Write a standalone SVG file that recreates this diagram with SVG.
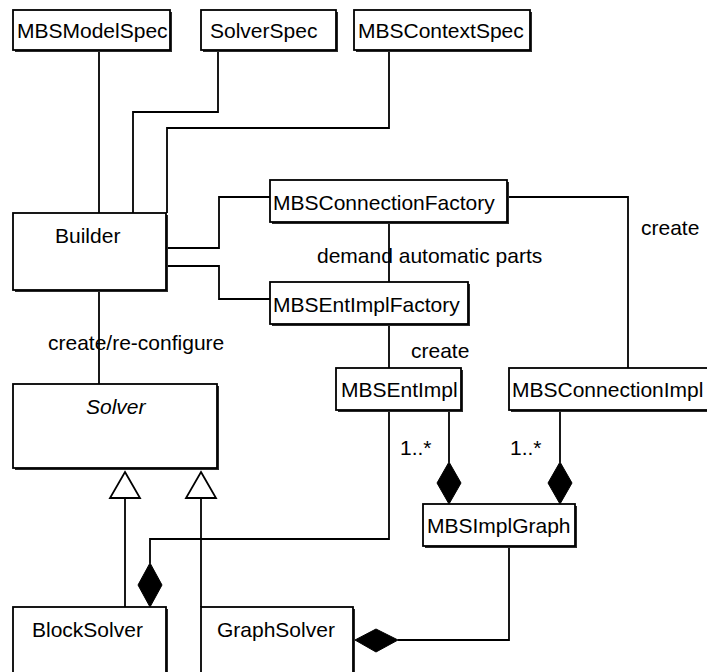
<svg xmlns="http://www.w3.org/2000/svg" width="707" height="672" viewBox="0 0 707 672">
<style>
.box{fill:#fff;stroke:#000;stroke-width:1.8}
.sh{fill:#2a2a2a}
.t{font-family:"Liberation Sans",Arial,sans-serif;font-size:21px;fill:#000}
.it{font-style:italic}
.c{fill:none;stroke:#000;stroke-width:1.8}
.dia{fill:#000;stroke:#000;stroke-width:1}
.tri{fill:#fff;stroke:#000;stroke-width:1.8}
</style>
<rect width="707" height="672" fill="#fff"/>
<g id="connectors">
<path class="c" d="M99,50 V213"/>
<path class="c" d="M218,51 V112 H133 V213"/>
<path class="c" d="M389,51 V128 H167 V213"/>
<path class="c" d="M166,248 H219 V197 H270"/>
<path class="c" d="M166,266 H219 V299 H270"/>
<path class="c" d="M389,223 V282"/>
<path class="c" d="M507,197 H628 V368"/>
<path class="c" d="M389,325 V368"/>
<path class="c" d="M99,290 V384"/>
<path class="c" d="M125,498 V607"/>
<path class="tri" d="M125,472 L140,498 L110,498 Z"/>
<path class="c" d="M201,498 V607"/>
<path class="tri" d="M201,472 L216,498 L186,498 Z"/>
<path class="c" d="M389,411 V539 H150 V563"/>
<path class="dia" d="M150,563 L162,585 L150,607 L138,585 Z"/>
<path class="c" d="M449,411 V462"/>
<path class="dia" d="M449,462 L461,483 L449,504 L437,483 Z"/>
<path class="c" d="M560,411 V462"/>
<path class="dia" d="M560,462 L572,483 L560,504 L548,483 Z"/>
<path class="c" d="M509,547 V640 H398"/>
<path class="dia" d="M355,640 L376,629 L398,640 L376,652 Z"/>
<text class="t" x="317" y="263">demand automatic parts</text>
<text class="t" x="641" y="235">create</text>
<text class="t" x="48" y="350">create/re-configure</text>
<text class="t" x="411" y="358">create</text>
<text class="t" x="400" y="455">1..*</text>
<text class="t" x="510" y="455">1..*</text>
</g>
<g id="MBSModelSpec">
<rect class="sh" x="15" y="12" width="157" height="40"/>
<rect class="box" x="13" y="10" width="157" height="40"/>
<text class="t" x="17" y="38">MBSModelSpec</text>
</g>
<g id="SolverSpec">
<rect class="sh" x="203" y="12" width="135" height="40"/>
<rect class="box" x="201" y="10" width="135" height="40"/>
<text class="t" x="210" y="38">SolverSpec</text>
</g>
<g id="MBSContextSpec">
<rect class="sh" x="356" y="12" width="176" height="40"/>
<rect class="box" x="354" y="10" width="176" height="40"/>
<text class="t" x="358" y="38">MBSContextSpec</text>
</g>
<g id="Builder">
<rect class="sh" x="15" y="215" width="153" height="77"/>
<rect class="box" x="13" y="213" width="153" height="77"/>
<text class="t" x="55" y="243">Builder</text>
</g>
<g id="MBSConnectionFactory">
<rect class="sh" x="272" y="182" width="237" height="42"/>
<rect class="box" x="270" y="180" width="237" height="42"/>
<text class="t" x="273" y="210">MBSConnectionFactory</text>
</g>
<g id="MBSEntImplFactory">
<rect class="sh" x="272" y="284" width="198" height="42"/>
<rect class="box" x="270" y="282" width="198" height="42"/>
<text class="t" x="273" y="312">MBSEntImplFactory</text>
</g>
<g id="Solver">
<rect class="sh" x="15" y="386" width="204" height="84"/>
<rect class="box" x="13" y="384" width="204" height="84"/>
<text class="t it" x="86" y="414">Solver</text>
</g>
<g id="MBSEntImpl">
<rect class="sh" x="338" y="370" width="125" height="42"/>
<rect class="box" x="336" y="368" width="125" height="42"/>
<text class="t" x="341" y="397">MBSEntImpl</text>
</g>
<g id="MBSConnectionImpl">
<rect class="sh" x="511" y="370" width="200" height="42"/>
<rect class="box" x="509" y="368" width="200" height="42"/>
<text class="t" x="512" y="397">MBSConnectionImpl</text>
</g>
<g id="MBSImplGraph">
<rect class="sh" x="425" y="506" width="152" height="42"/>
<rect class="box" x="423" y="504" width="152" height="42"/>
<text class="t" x="427" y="533">MBSImplGraph</text>
</g>
<g id="BlockSolver">
<rect class="sh" x="15" y="609" width="153" height="80"/>
<rect class="box" x="13" y="607" width="153" height="80"/>
<text class="t" x="32" y="637">BlockSolver</text>
</g>
<g id="GraphSolver">
<rect class="sh" x="203" y="609" width="152" height="80"/>
<rect class="box" x="201" y="607" width="152" height="80"/>
<text class="t" x="217" y="637">GraphSolver</text>
</g>
</svg>
